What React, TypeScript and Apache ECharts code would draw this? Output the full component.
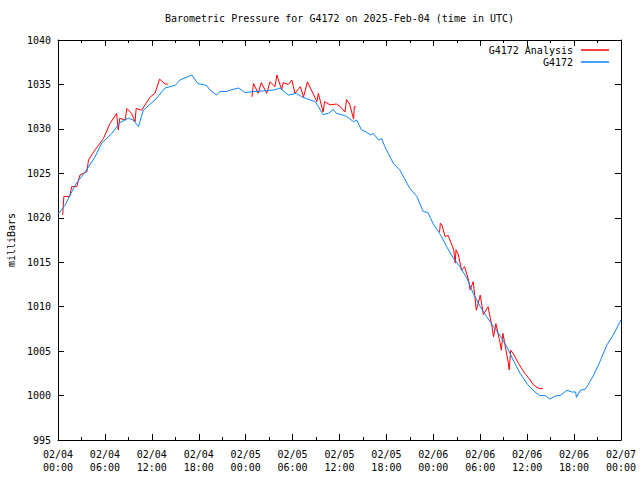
import React, { useEffect, useRef } from "react";
import * as echarts from "echarts";

// Hours since 2025-02-04 00:00 UTC
const blueHours = [0, 0.9, 2.2, 3.5, 4.7, 5.6, 6.9, 7.9, 9.0, 9.6, 10.3, 10.9, 12.4, 13.7, 15.0, 15.6, 17.1, 17.9, 19.0, 19.4, 20.3, 20.7, 21.5, 22.2, 23.1, 23.9, 25.2, 26.7, 27.75, 28.4, 29.45, 30.5, 31.2, 31.8, 32.9, 33.3, 33.9, 34.6, 35.2, 35.6, 36.3, 36.9, 37.8, 38.2, 38.8, 39.5, 40.0, 40.3, 41.0, 41.4, 41.8, 42.9, 43.7, 44.4, 45.0, 45.9, 46.7, 47.3, 48.0, 48.9, 49.7, 50.6, 51.4, 52.3, 53.1, 54.0, 54.8, 55.7, 56.5, 57.4, 58.2, 59.1, 60.1, 61.0, 61.6, 62.3, 62.9, 63.6, 64.2, 65.1, 65.7, 66.2, 66.3, 66.8, 67.4, 67.8, 68.5, 69.3, 70.2, 71.0, 72.0];
const bluePressure = [1020.4, 1021.4, 1023.7, 1025.2, 1026.8, 1028.4, 1029.5, 1030.7, 1031.2, 1031.0, 1030.25, 1032.1, 1033.25, 1034.6, 1034.9, 1035.5, 1036.06, 1035.1, 1034.9, 1034.4, 1033.8, 1034.2, 1034.2, 1034.4, 1034.6, 1034.1, 1034.2, 1034.3, 1034.4, 1034.6, 1033.8, 1034.0, 1033.6, 1033.4, 1033.06, 1032.5, 1031.6, 1031.75, 1032.2, 1031.75, 1031.6, 1031.4, 1030.8, 1031.0, 1029.9, 1029.6, 1029.3, 1029.5, 1028.75, 1028.9, 1028.0, 1026.1, 1025.4, 1024.25, 1023.3, 1022.4, 1020.7, 1020.6, 1019.3, 1018.1, 1016.75, 1015.4, 1014.5, 1013.2, 1011.5, 1010.0, 1008.9, 1007.75, 1006.8, 1005.5, 1004.0, 1002.5, 1001.2, 1000.4, 1000.0, 1000.0, 999.6, 999.95, 1000.0, 1000.6, 1000.4, 1000.4, 999.8, 1000.6, 1000.7, 1001.2, 1002.3, 1003.8, 1005.7, 1006.8, 1008.5];

const redHours1 = [0.6, 0.75, 1.5, 1.75, 2.4, 2.8, 3.7, 3.9, 4.7, 5.8, 6.65, 7.5, 7.7, 7.9, 8.6, 8.8, 9.4, 9.85, 10.0, 10.7, 11.8, 12.4, 13.0, 13.7, 14.1];
const redPressure1 = [1020.3, 1022.4, 1022.4, 1023.5, 1023.5, 1024.8, 1025.2, 1026.5, 1027.6, 1028.9, 1030.6, 1031.75, 1029.9, 1031.2, 1031.0, 1032.3, 1031.75, 1030.8, 1032.3, 1032.1, 1033.6, 1034.0, 1035.6, 1035.05, 1035.05];
const redHours2 = [24.8, 25.0, 25.6, 26.0, 26.7, 27.1, 27.75, 28.0, 28.6, 28.8, 29.45, 29.9, 30.3, 31.0, 31.4, 31.9, 32.6, 33.1, 33.3, 33.9, 34.1, 34.8, 35.6, 36.1, 36.7, 36.9, 37.3, 37.8, 37.9, 38.1];
const redPressure2 = [1033.6, 1035.1, 1034.0, 1035.2, 1034.0, 1035.3, 1034.75, 1036.06, 1034.4, 1035.2, 1035.0, 1035.5, 1034.0, 1034.75, 1033.6, 1035.3, 1034.0, 1033.06, 1034.0, 1031.9, 1033.06, 1032.7, 1032.8, 1032.5, 1031.9, 1033.3, 1032.8, 1031.1, 1032.5, 1032.5];
const redHours3 = [48.8, 48.9, 49.1, 49.5, 49.9, 50.6, 50.8, 50.9, 51.2, 51.6, 52.0, 52.5, 52.7, 53.1, 53.5, 54.0, 54.4, 55.0, 55.5, 55.7, 56.0, 56.5, 56.7, 56.9, 57.6, 57.7, 57.9, 58.2, 58.9, 59.7, 60.4, 60.8, 61.5, 62.0];
const redPressure3 = [1018.4, 1019.4, 1019.2, 1017.9, 1018.0, 1016.4, 1014.9, 1016.4, 1015.9, 1014.1, 1014.5, 1013.0, 1011.9, 1012.8, 1009.6, 1011.3, 1009.1, 1010.0, 1007.75, 1006.6, 1008.1, 1006.06, 1005.1, 1007.0, 1003.6, 1002.9, 1005.1, 1004.75, 1003.6, 1002.5, 1001.75, 1001.2, 1000.8, 1000.8];

const titleText = "Barometric Pressure for G4172 on 2025-Feb-04 (time in UTC)";
const seriesNames = ["G4172 Analysis", "G4172"];
const yLabel = "milliBars";

const FONT = "'DejaVu Sans Mono', 'Liberation Mono', monospace";

function pairs(h: number[], p: number[]) {
  return h.map((t, i) => [t, p[i]]);
}

function xLabel(v: number) {
  const day = 4 + Math.floor(v / 24);
  const hr = v % 24;
  return `02/${String(day).padStart(2, "0")}\n${String(hr).padStart(2, "0")}:00`;
}

export default function App() {
  const ref = useRef<HTMLDivElement>(null);
  useEffect(() => {
    if (!ref.current) return;
    const chart = echarts.init(ref.current, undefined, { renderer: "svg" });
    const redData: any[] = [
      ...pairs(redHours1, redPressure1),
      [19, null],
      ...pairs(redHours2, redPressure2),
      [43, null],
      ...pairs(redHours3, redPressure3),
    ];
    const blueData = pairs(blueHours, bluePressure);
    const xCommon = {
      type: "value",
      min: 0,
      max: 72,
      interval: 6,
      splitLine: { show: false },
      axisLine: { show: true, onZero: false, lineStyle: { color: "#000", width: 1 } },
      axisTick: { show: true, inside: true, length: 6, lineStyle: { color: "#000" } },
      minorTick: { show: true, splitNumber: 2, length: 3, lineStyle: { color: "#000" } },
      minorSplitLine: { show: false },
    };
    const yCommon = {
      type: "value",
      min: 995,
      max: 1040,
      interval: 5,
      splitLine: { show: false },
      axisLine: { show: true, onZero: false, lineStyle: { color: "#000", width: 1 } },
      axisTick: { show: true, inside: true, length: 6, lineStyle: { color: "#000" } },
    };
    chart.setOption({
      animation: false,
      backgroundColor: "#fff",
      title: {
        text: titleText,
        left: 339.5,
        textAlign: "center",
        top: 13,
        padding: 0,
        textStyle: { fontFamily: FONT, fontSize: 10, fontWeight: "normal", color: "#000" },
      },
      legend: {
        orient: "vertical",
        align: "right",
        right: 31,
        top: 44,
        padding: 0,
        itemWidth: 28,
        itemHeight: 1.5,
        itemGap: 0,
        icon: "rect",
        textStyle: { fontFamily: FONT, fontSize: 10, color: "#000", lineHeight: 12, padding: [0, 3, 0, 0] },
        data: seriesNames,
        selectedMode: false,
      },
      grid: { left: 58, right: 19, top: 40, bottom: 40, containLabel: false, outerBoundsMode: "none" },
      xAxis: [
        {
          ...xCommon,
          position: "bottom",
          axisLabel: {
            show: true,
            margin: 8,
            fontFamily: FONT,
            fontSize: 10,
            color: "#000",
            lineHeight: 13,
            formatter: (v: number) => xLabel(v),
          },
        },
        { ...xCommon, position: "top", axisLabel: { show: false } },
      ],
      yAxis: [
        {
          ...yCommon,
          position: "left",
          name: yLabel,
          nameLocation: "middle",
          nameRotate: 90,
          nameGap: 41,
          nameTextStyle: { fontFamily: FONT, fontSize: 10, color: "#000" },
          axisLabel: {
            show: true,
            margin: 7,
            fontFamily: FONT,
            fontSize: 10,
            color: "#000",
            formatter: (v: number) => String(v),
          },
        },
        { ...yCommon, position: "right", axisLabel: { show: false } },
      ],
      series: [
        {
          name: seriesNames[0],
          type: "line",
          data: redData,
          symbol: "none",
          connectNulls: false,
          lineStyle: { color: "#ff0000", width: 1 },
          itemStyle: { color: "#ff0000" },
          silent: true,
        },
        {
          name: seriesNames[1],
          type: "line",
          data: blueData,
          symbol: "none",
          lineStyle: { color: "#0a84ff", width: 1 },
          itemStyle: { color: "#0a84ff" },
          silent: true,
        },
      ],
    });
    return () => chart.dispose();
  }, []);
  return (
    <div
      ref={ref}
      style={{ position: "fixed", left: 0, top: 0, width: 640, height: 480, background: "#fff" }}
    />
  );
}
